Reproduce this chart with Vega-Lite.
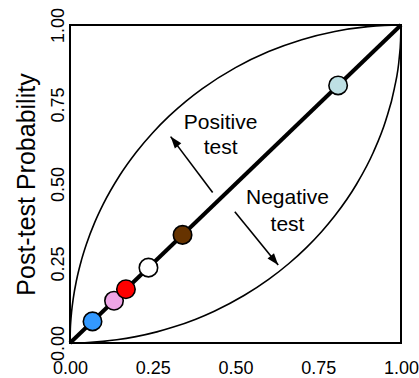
{
  "$schema": "https://vega.github.io/schema/vega-lite/v6.json",
  "width": 331,
  "height": 318,
  "autosize": {"type": "none"},
  "padding": {"left": 70, "top": 25, "right": 18, "bottom": 35},
  "background": "white",
  "config": {
    "view": {"stroke": "black", "strokeWidth": 2},
    "font": "Liberation Sans",
    "axis": {
      "labelFont": "Liberation Sans",
      "labelFontSize": 18,
      "labelColor": "black",
      "ticks": false,
      "domain": false,
      "grid": false,
      "labelFlush": false,
      "titleFont": "Liberation Sans",
      "titleFontSize": 25,
      "titleFontWeight": "normal",
      "titleColor": "black"
    }
  },
  "datasets": {
    "positive": [
      {"pre": 0, "post": 0},
      {"pre": 0.001, "post": 0.0447},
      {"pre": 0.002, "post": 0.0632},
      {"pre": 0.005, "post": 0.0999},
      {"pre": 0.01, "post": 0.1411},
      {"pre": 0.02, "post": 0.199},
      {"pre": 0.035, "post": 0.2623},
      {"pre": 0.05, "post": 0.3122},
      {"pre": 0.075, "post": 0.38},
      {"pre": 0.1, "post": 0.4359},
      {"pre": 0.15, "post": 0.5268},
      {"pre": 0.2, "post": 0.6},
      {"pre": 0.25, "post": 0.6614},
      {"pre": 0.3, "post": 0.7141},
      {"pre": 0.35, "post": 0.7599},
      {"pre": 0.4, "post": 0.8},
      {"pre": 0.5, "post": 0.866},
      {"pre": 0.6, "post": 0.9165},
      {"pre": 0.7, "post": 0.9539},
      {"pre": 0.8, "post": 0.9798},
      {"pre": 0.9, "post": 0.995},
      {"pre": 0.95, "post": 0.9987},
      {"pre": 1, "post": 1}
    ],
    "negative": [
      {"pre": 0, "post": 0},
      {"pre": 0.0447, "post": 0.001},
      {"pre": 0.0632, "post": 0.002},
      {"pre": 0.0999, "post": 0.005},
      {"pre": 0.1411, "post": 0.01},
      {"pre": 0.199, "post": 0.02},
      {"pre": 0.2623, "post": 0.035},
      {"pre": 0.3122, "post": 0.05},
      {"pre": 0.38, "post": 0.075},
      {"pre": 0.4359, "post": 0.1},
      {"pre": 0.5268, "post": 0.15},
      {"pre": 0.6, "post": 0.2},
      {"pre": 0.6614, "post": 0.25},
      {"pre": 0.7141, "post": 0.3},
      {"pre": 0.7599, "post": 0.35},
      {"pre": 0.8, "post": 0.4},
      {"pre": 0.866, "post": 0.5},
      {"pre": 0.9165, "post": 0.6},
      {"pre": 0.9539, "post": 0.7},
      {"pre": 0.9798, "post": 0.8},
      {"pre": 0.995, "post": 0.9},
      {"pre": 0.9987, "post": 0.95},
      {"pre": 1, "post": 1}
    ],
    "diag": [
      {"pre": 0, "post": 0},
      {"pre": 1, "post": 1}
    ],
    "points": [
      {"group": "1", "pre": 0.068, "post": 0.068},
      {"group": "2", "pre": 0.133, "post": 0.133},
      {"group": "3", "pre": 0.169, "post": 0.169},
      {"group": "4", "pre": 0.237, "post": 0.237},
      {"group": "5", "pre": 0.34, "post": 0.34},
      {"group": "6", "pre": 0.81, "post": 0.81}
    ],
    "labels": [
      {"text": "Positive", "x": 0.455, "y": 0.693},
      {"text": "test", "x": 0.455, "y": 0.613},
      {"text": "Negative", "x": 0.657, "y": 0.456},
      {"text": "test", "x": 0.657, "y": 0.371}
    ],
    "arrows": [
      {"arrow": "pos", "x": 0.431, "y": 0.473, "x2": 0.304, "y2": 0.649},
      {"arrow": "neg", "x": 0.498, "y": 0.413, "x2": 0.629, "y2": 0.245}
    ]
  },
  "layer": [
    {
      "data": {"name": "positive"},
      "mark": {"type": "line", "color": "black", "strokeWidth": 1.6, "interpolate": "monotone"},
      "encoding": {
        "x": {"field": "pre", "type": "quantitative", "scale": {"domain": [0, 1], "nice": false, "zero": false},
          "axis": {"values": [0, 0.25, 0.5, 0.75, 1], "format": ".2f", "labelPadding": 16, "title": null}},
        "y": {"field": "post", "type": "quantitative", "scale": {"domain": [0, 1], "nice": false, "zero": false},
          "axis": {"values": [0, 0.25, 0.5, 0.75, 1], "format": ".2f", "labelAngle": -90, "labelPadding": 3, "title": "Post-test Probability", "titlePadding": 10}}
      }
    },
    {
      "data": {"name": "negative"},
      "mark": {"type": "line", "color": "black", "strokeWidth": 1.6, "interpolate": "monotone"},
      "encoding": {
        "x": {"field": "pre", "type": "quantitative"},
        "y": {"field": "post", "type": "quantitative"}
      }
    },
    {
      "data": {"name": "diag"},
      "mark": {"type": "line", "color": "black", "strokeWidth": 4},
      "encoding": {
        "x": {"field": "pre", "type": "quantitative"},
        "y": {"field": "post", "type": "quantitative"}
      }
    },
    {
      "data": {"name": "arrows"},
      "mark": {"type": "rule", "color": "black", "strokeWidth": 1.6},
      "encoding": {
        "x": {"field": "x", "type": "quantitative"},
        "y": {"field": "y", "type": "quantitative"},
        "x2": {"field": "x2"},
        "y2": {"field": "y2"}
      }
    },
    {
      "data": {"name": "arrows"},
      "transform": [{"filter": "datum.arrow === 'pos'"}],
      "mark": {"type": "point", "shape": "M0,0L-0.35,1L0.35,1Z", "filled": true, "color": "black", "size": 560, "angle": 321, "opacity": 1},
      "encoding": {
        "x": {"field": "x2", "type": "quantitative"},
        "y": {"field": "y2", "type": "quantitative"}
      }
    },
    {
      "data": {"name": "arrows"},
      "transform": [{"filter": "datum.arrow === 'neg'"}],
      "mark": {"type": "point", "shape": "M0,0L-0.35,1L0.35,1Z", "filled": true, "color": "black", "size": 560, "angle": 141, "opacity": 1},
      "encoding": {
        "x": {"field": "x2", "type": "quantitative"},
        "y": {"field": "y2", "type": "quantitative"}
      }
    },
    {
      "data": {"name": "points"},
      "mark": {"type": "circle", "size": 340, "stroke": "black", "strokeWidth": 1.6, "opacity": 1},
      "encoding": {
        "x": {"field": "pre", "type": "quantitative"},
        "y": {"field": "post", "type": "quantitative"},
        "fill": {"field": "group", "type": "nominal", "legend": null,
          "scale": {"domain": ["1", "2", "3", "4", "5", "6"],
            "range": ["#3399FF", "#EEA5E6", "#FF0000", "#FFFFFF", "#663300", "#BEE0E4"]}}
      }
    },
    {
      "data": {"name": "labels"},
      "mark": {"type": "text", "font": "Liberation Sans", "fontSize": 21, "color": "black", "align": "center", "baseline": "middle"},
      "encoding": {
        "x": {"field": "x", "type": "quantitative"},
        "y": {"field": "y", "type": "quantitative"},
        "text": {"field": "text"}
      }
    }
  ]
}
